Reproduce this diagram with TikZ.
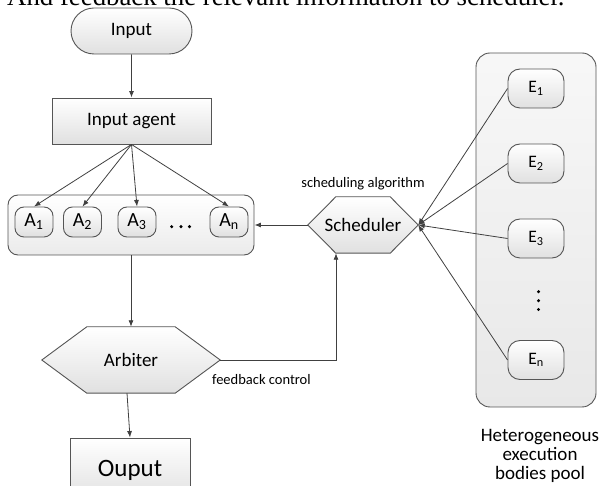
\documentclass[tikz,border=0pt]{standalone}
\usepackage{fontspec}
\setmainfont{Carlito}
\newfontfamily\timesf{Liberation Serif}
\usetikzlibrary{arrows.meta,calc,shapes.misc,backgrounds}
\definecolor{edge}{RGB}{85,85,85}
\definecolor{arrc}{RGB}{64,64,64}
\tikzset{
  line/.style={draw=arrc, line width=0.8pt},
  arr/.style={line, -{Latex[length=6.5pt,width=5pt]}},
  box/.style={draw=edge, line width=0.9pt, top color=white, bottom color=black!12,
    inner sep=0pt, font=\fontsize{19}{22}\selectfont},
  abox/.style={box, rounded corners=9pt, minimum width=38pt, minimum height=30pt,
    font=\fontsize{20}{22}\selectfont},
  ebox/.style={box, rounded corners=12pt, minimum width=56pt, minimum height=39pt,
    font=\fontsize{17.5}{20}\selectfont},
  hexnode/.style={inner sep=0pt, font=\fontsize{19}{22}\selectfont},
  hexfill/.style={draw=edge, line width=0.9pt, top color=white, bottom color=black!12},
  small/.style={inner sep=0pt, font=\fontsize{14.5}{17}\selectfont}
}
\begin{document}
\begin{tikzpicture}[x=1pt,y=-1pt]
\useasboundingbox (0,0) rectangle (606,486);
\clip (0,0) rectangle (606,486);

% top cut-off text line
\node[anchor=base west, inner sep=0pt, font=\timesf\fontsize{26.8}{30}\selectfont] (toptext) at (7,6)
  {And feedback the relevant information to scheduler.};

% left column
\node[box, rounded rectangle, minimum width=121pt, minimum height=46pt] (inp) at (131.5,31) {Input};
\node[box, rectangle, minimum width=159pt, minimum height=46pt] (ia) at (131.5,121) {Input agent};

\node[box, rounded corners=10pt, minimum width=246pt, minimum height=60pt, bottom color=black!8] (grp) at (131,225) {};
\node[abox] (a1) at (34,222) {A\textsubscript{1}};
\node[abox] (a2) at (82.5,222) {A\textsubscript{2}};
\node[abox] (a3) at (137,222) {A\textsubscript{3}};
\node[abox] (an) at (229,222) {A\textsubscript{n}};
\fill[black] (171.7,226.7) circle (1.7pt) (181,226.7) circle (1.7pt) (189.5,226.7) circle (1.7pt);

\node[hexnode, minimum width=178pt, minimum height=66pt] (arb) at (131,360) {Arbiter};
\node[hexnode, minimum width=110pt, minimum height=56pt] (sch) at (363,225) {Scheduler};
\begin{scope}[on background layer]
\path[hexfill] (arb.west) -- ($(arb.north west)+(45,0)$) -- ($(arb.north east)+(-45,0)$) -- (arb.east)
  -- ($(arb.south east)+(-45,0)$) -- ($(arb.south west)+(45,0)$) -- cycle;
\path[hexfill] (sch.west) -- ($(sch.north west)+(28,0)$) -- ($(sch.north east)+(-28,0)$) -- (sch.east)
  -- ($(sch.south east)+(-28,0)$) -- ($(sch.south west)+(28,0)$) -- cycle;
\end{scope}

\node[box, rectangle, minimum width=120pt, minimum height=64pt, font=\fontsize{25}{28}\selectfont] (out) at (130,470) {Ouput};

% pool
\node[draw=edge, line width=0.9pt, rounded corners=14pt, minimum width=120pt, minimum height=354pt,
  top color=black!3, bottom color=black!9] (pool) at (536,230) {};
\node[ebox] (e1) at (536,88.5) {E\textsubscript{1}};
\node[ebox] (e2) at (536,163.5) {E\textsubscript{2}};
\node[ebox] (e3) at (536,238.5) {E\textsubscript{3}};
\node[ebox] (en) at (536,360) {E\textsubscript{n}};
\fill[black] (538.5,291.7) circle (1.7pt) (538.5,300.7) circle (1.7pt) (538.5,309.5) circle (1.7pt);

\node[align=center, inner sep=0pt, font=\fontsize{19}{19}\selectfont] (het) at (540,456)
  {Heterogeneous\\execution\\bodies pool};

% labels
\node[small] (salg) at (363,184) {scheduling algorithm};
\node[small, anchor=west] (fctl) at (212,380) {feedback control};

% connectors
\draw[arr] (inp) -- (ia);
\foreach \t in {a1,a2,a3,an} \draw[arr] (ia.south) -- (\t.north);
\draw[arr] (grp.south) -- (arb.north);
\coordinate (arbout) at ($(arb.south)+(-4,0)$);
\draw[arr] (arbout) -- (out.north);
\coordinate (fb) at ($(sch.south)+(-27,0)$);
\draw[arr] (arb.east) -| (fb);
\draw[arr] (sch.west) -- (grp.east);
\foreach \t in {e1,e2,e3,en} \draw[arr] (\t.west) -- (sch.east);
\end{tikzpicture}
\end{document}
